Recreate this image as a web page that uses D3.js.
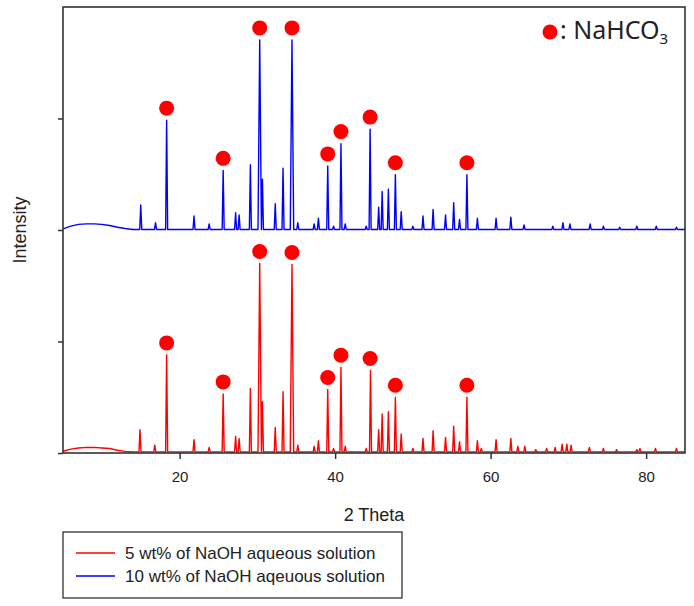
<!DOCTYPE html>
<html>
<head>
<meta charset="utf-8">
<script src="https://cdn.jsdelivr.net/npm/d3@7"></script>
<style>
  body { margin: 0; background: #fff; }
</style>
</head>
<body>
<div id="chart"></div>
<script>
// background hump at low angles (2 theta, intensity)
const bgAngles = [5, 6, 7, 8, 9, 10, 11, 12, 13, 14];
const redBg = [0.005, 0.025, 0.035, 0.04, 0.04, 0.035, 0.03, 0.015, 0.005, 0];
const blueBg = [0.005, 0.03, 0.045, 0.05, 0.05, 0.045, 0.035, 0.02, 0.008, 0];

// peaks
const redPeakAngles = [14.9, 16.8, 18.33, 21.85, 23.8, 25.6, 27.2, 27.65, 29.1, 30.3, 30.65, 32.3, 33.3, 34.45, 35.2,
    37.3, 37.85, 39.05, 39.8, 40.75, 41.3, 44.0, 44.55, 45.6, 46.05, 46.85, 47.75, 48.5, 50.0, 51.3, 52.6, 54.2,
    55.25, 56.0, 56.95, 58.3, 58.8, 60.7, 62.6, 63.5, 64.4, 65.8, 67.2, 68.3, 69.2, 69.8, 70.35, 72.7, 74.5,
    76.2, 78.8, 79.2, 81.2, 83.9];
const redPeakHeights = [0.20, 0.06, 0.87, 0.11, 0.04, 0.52, 0.14, 0.12, 0.57, 1.69, 0.45, 0.22, 0.54, 1.68, 0.06,
    0.05, 0.10, 0.56, 0.03, 0.76, 0.05, 0.03, 0.73, 0.20, 0.34, 0.36, 0.49, 0.16, 0.03, 0.12, 0.19, 0.13,
    0.23, 0.09, 0.49, 0.10, 0.03, 0.11, 0.12, 0.05, 0.05, 0.02, 0.03, 0.04, 0.07, 0.07, 0.06, 0.04, 0.03,
    0.02, 0.02, 0.03, 0.03, 0.03];

const bluePeakAngles = [15.0, 16.9, 18.33, 21.85, 23.8, 25.6, 27.2, 27.65, 29.1, 30.3, 30.65, 32.3, 33.3, 34.45, 35.2,
    37.3, 37.85, 39.05, 39.8, 40.75, 41.3, 44.0, 44.5, 45.6, 46.05, 46.85, 47.75, 48.5, 50.0, 51.3, 52.6, 54.2,
    55.25, 56.0, 56.95, 58.3, 60.7, 62.6, 64.3, 68.0, 69.3, 70.2, 72.8, 74.5, 76.6, 78.8, 81.3, 83.9];
const bluePeakHeights = [0.22, 0.06, 0.98, 0.12, 0.05, 0.53, 0.15, 0.13, 0.58, 1.70, 0.45, 0.23, 0.55, 1.70, 0.06,
    0.05, 0.10, 0.57, 0.03, 0.77, 0.05, 0.03, 0.90, 0.20, 0.34, 0.36, 0.49, 0.16, 0.03, 0.12, 0.18, 0.13,
    0.24, 0.09, 0.49, 0.10, 0.10, 0.11, 0.04, 0.03, 0.06, 0.05, 0.05, 0.03, 0.02, 0.03, 0.03, 0.02];

// NaHCO3 peaks marked with dots
const markerAngles = [18.33, 25.6, 30.3, 34.45, 39.05, 40.75, 44.5, 47.75, 56.95];

const xTicks = [20, 40, 60, 80];
const yTicks = [0, 1, 2, 3];
const seriesNames = ['5 wt% of NaOH aqueous solution', '10 wt% of NaOH aqeuous solution'];

const W = 694, H = 606;
const margin = { left: 63, top: 7, right: 9, bottom: 153 };

const svg = d3.select('#chart')
    .append('svg')
    .attr('width', W)
    .attr('height', H);

const x = d3.scaleLinear().domain([5, 85]).range([margin.left, W - margin.right]);
const y = d3.scaleLinear().domain([0, 4]).range([H - margin.bottom, margin.top]);

svg.append('clipPath')
    .attr('id', 'plot')
    .append('rect')
    .attr('x', x(5))
    .attr('y', y(4))
    .attr('width', x(85) - x(5))
    .attr('height', y(0) - y(4));

function buildTrace(bg, angles, heights) {
    const pts = bgAngles.map((a, i) => [a, bg[i]]);
    angles.forEach((a, i) => {
        const w = heights[i] > 1 ? 0.22 : 0.13;
        pts.push([a - w, 0], [a, heights[i]], [a + w, 0]);
    });
    pts.push([85, 0]);
    return pts.sort((p, q) => p[0] - q[0]);
}

const series = [
    { name: seriesNames[0], color: '#ff0000', offset: 0.01, angles: redPeakAngles, heights: redPeakHeights, bg: redBg },
    { name: seriesNames[1], color: '#0000ff', offset: 2.005, angles: bluePeakAngles, heights: bluePeakHeights, bg: blueBg }
];

const plot = svg.append('g').attr('clip-path', 'url(#plot)');

series.forEach(s => {
    const line = d3.line()
        .x(d => x(d[0]))
        .y(d => y(d[1] + s.offset));
    plot.append('path')
        .datum(buildTrace(s.bg, s.angles, s.heights))
        .attr('d', line)
        .attr('fill', 'none')
        .attr('stroke', s.color)
        .attr('stroke-width', 1.4)
        .attr('stroke-linejoin', 'round');

    // dots over the NaHCO3 peaks
    svg.append('g')
        .selectAll('circle')
        .data(markerAngles)
        .enter()
        .append('circle')
        .attr('cx', d => x(d))
        .attr('cy', d => {
            const i = d3.minIndex(s.angles, a => Math.abs(a - d));
            return y(s.heights[i] + s.offset) - 12;
        })
        .attr('r', 7.5)
        .attr('fill', '#ff0000');
});

// axes
const axisColor = '#333';

const xAxis = svg.append('g')
    .attr('transform', `translate(0,${y(0)})`)
    .call(d3.axisBottom(x).tickValues(xTicks).tickSize(6).tickPadding(12).tickSizeOuter(0));
xAxis.select('.domain').remove();
xAxis.selectAll('line').attr('stroke', axisColor).attr('stroke-width', 1.5);
xAxis.selectAll('text')
    .attr('fill', '#222')
    .attr('font-family', 'Liberation Sans, Arial, sans-serif')
    .attr('font-size', 15);

const yAxis = svg.append('g')
    .attr('transform', `translate(${x(5)},0)`)
    .call(d3.axisLeft(y).tickValues(yTicks).tickSize(5).tickFormat('').tickSizeOuter(0));
yAxis.select('.domain').remove();
yAxis.selectAll('line').attr('stroke', axisColor).attr('stroke-width', 1.5);

svg.append('rect')
    .attr('x', x(5))
    .attr('y', y(4))
    .attr('width', x(85) - x(5))
    .attr('height', y(0) - y(4))
    .attr('fill', 'none')
    .attr('stroke', axisColor)
    .attr('stroke-width', 1.6);

// axis titles
svg.append('text')
    .attr('x', (x(5) + x(85)) / 2)
    .attr('y', 521)
    .attr('text-anchor', 'middle')
    .attr('font-family', 'Liberation Sans, Arial, sans-serif')
    .attr('font-size', 18)
    .attr('fill', '#222')
    .text('2 Theta');

svg.append('text')
    .attr('transform', `translate(26,${y(2)}) rotate(-90)`)
    .attr('text-anchor', 'middle')
    .attr('font-family', 'Liberation Sans, Arial, sans-serif')
    .attr('font-size', 18)
    .attr('fill', '#222')
    .text('Intensity');

// NaHCO3 key
svg.append('circle')
    .attr('cx', 550)
    .attr('cy', 32)
    .attr('r', 7.5)
    .attr('fill', '#ff0000');

const key = svg.append('text')
    .attr('x', 560)
    .attr('y', 39)
    .attr('font-family', 'Noto Sans, sans-serif')
    .attr('font-size', 25)
    .attr('fill', '#222');
key.append('tspan').text(': NaHCO');
key.append('tspan').attr('font-size', 15).attr('dy', 5).text('3');

// legend
const legend = svg.append('g');
legend.append('rect')
    .attr('x', 63)
    .attr('y', 532)
    .attr('width', 339)
    .attr('height', 66)
    .attr('fill', '#fff')
    .attr('stroke', axisColor)
    .attr('stroke-width', 1.3);

const item = legend.selectAll('g.item')
    .data(series)
    .enter()
    .append('g')
    .attr('class', 'item')
    .attr('transform', (d, i) => `translate(0,${553 + i * 23})`);
item.append('line')
    .attr('x1', 76).attr('x2', 115)
    .attr('stroke', d => d.color)
    .attr('stroke-width', 1.3);
item.append('text')
    .attr('x', 125)
    .attr('y', 6)
    .attr('font-family', 'Liberation Sans, Arial, sans-serif')
    .attr('font-size', 17)
    .attr('fill', '#222')
    .text(d => d.name);
</script>
</body>
</html>
